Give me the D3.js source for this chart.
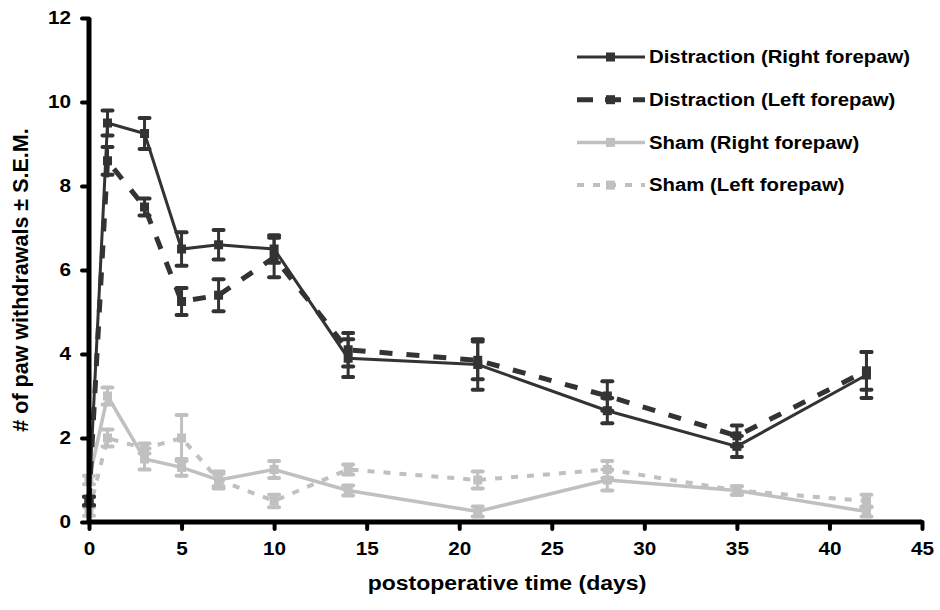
<!DOCTYPE html>
<html>
<head>
<meta charset="utf-8">
<script src="https://d3js.org/d3.v7.min.js"></script>
<style>
  body { margin: 0; background: #fff; }
  text { font-family: "Liberation Sans", Arial, sans-serif; font-weight: bold; fill: #000; }
</style>
</head>
<body>
<svg id="chart" width="940" height="610"></svg>
<script>
// days after surgery
const days = [0, 1, 3, 5, 7, 10, 14, 21, 28, 35, 42];

// mean withdrawals and S.E.M. per group
const distRight    = [0.5, 9.5, 9.25, 6.5, 6.6, 6.5, 3.9, 3.75, 2.65, 1.8, 3.5];
const distRightErr = [0.1, 0.3, 0.37, 0.4, 0.35, 0.33, 0.45, 0.6, 0.3, 0.25, 0.55];
const distLeft     = [0.5, 8.6, 7.5, 5.25, 5.4, 6.3, 4.1, 3.85, 3.0, 2.05, 3.6];
const distLeftErr  = [0.1, 0.33, 0.2, 0.32, 0.38, 0.47, 0.4, 0.45, 0.35, 0.25, 0.45];
const shamRight    = [1.0, 3.0, 1.5, 1.3, 1.0, 1.25, 0.75, 0.25, 1.0, 0.75, 0.25];
const shamRightErr = [0.1, 0.2, 0.25, 0.2, 0.2, 0.2, 0.12, 0.12, 0.25, 0.1, 0.12];
const shamLeft     = [0.25, 2.0, 1.75, 2.0, 1.0, 0.5, 1.25, 1.0, 1.25, 0.75, 0.5];
const shamLeftErr  = [0.1, 0.2, 0.12, 0.55, 0.15, 0.15, 0.12, 0.2, 0.2, 0.1, 0.15];

const xTicks = [0, 5, 10, 15, 20, 25, 30, 35, 40, 45];
const yTicks = [0, 2, 4, 6, 8, 10, 12];

const series = [
  {name: "Sham (Left forepaw)", vals: shamLeft, err: shamLeftErr, color: "#c0c0c0", width: 4, dash: "7,9"},
  {name: "Sham (Right forepaw)", vals: shamRight, err: shamRightErr, color: "#c0c0c0", width: 3.5, dash: null},
  {name: "Distraction (Left forepaw)", vals: distLeft, err: distLeftErr, color: "#333333", width: 5, dash: "13,14"},
  {name: "Distraction (Right forepaw)", vals: distRight, err: distRightErr, color: "#333333", width: 3, dash: null}
];

const svg = d3.select("#chart");
const x = d3.scaleLinear().domain([0, 45]).range([89, 922]);
const y = d3.scaleLinear().domain([0, 12]).range([522, 18]);

// the original text is a bit wider than Arial bold, stretch it
function stretch(sel, k) {
  sel.each(function() {
    const w = this.getComputedTextLength();
    d3.select(this).attr("textLength", w * k).attr("lengthAdjust", "spacingAndGlyphs");
  });
}

// data layers
series.forEach(s => {
  const pts = days.map((d, i) => ({d: d, v: s.vals[i], e: s.err[i]}));
  const g = svg.append("g");
  const line = d3.line().x(p => x(p.d)).y(p => y(p.v));
  g.append("path").datum(pts)
    .attr("d", line)
    .attr("fill", "none")
    .attr("stroke", s.color)
    .attr("stroke-width", s.width)
    .attr("stroke-dasharray", s.dash);

  // error bars
  const eb = g.selectAll("g.err").data(pts).join("g").attr("class", "err")
    .attr("stroke", s.color).attr("stroke-linecap", "round");
  eb.append("line")
    .attr("x1", p => x(p.d)).attr("x2", p => x(p.d))
    .attr("y1", p => y(p.v + p.e)).attr("y2", p => y(p.v - p.e))
    .attr("stroke-width", 3);
  eb.append("line")
    .attr("x1", p => x(p.d) - 5).attr("x2", p => x(p.d) + 5)
    .attr("y1", p => y(p.v + p.e)).attr("y2", p => y(p.v + p.e))
    .attr("stroke-width", 4);
  eb.append("line")
    .attr("x1", p => x(p.d) - 5).attr("x2", p => x(p.d) + 5)
    .attr("y1", p => y(p.v - p.e)).attr("y2", p => y(p.v - p.e))
    .attr("stroke-width", 4);

  g.selectAll("rect").data(pts).join("rect")
    .attr("x", p => x(p.d) - 4.5).attr("y", p => y(p.v) - 4.5)
    .attr("width", 9).attr("height", 9)
    .attr("fill", s.color);
});

// axes
const xAxis = svg.append("g").attr("transform", "translate(0,522)")
  .call(d3.axisBottom(x).tickValues(xTicks).tickSize(7).tickPadding(13));
const yAxis = svg.append("g").attr("transform", "translate(89,0)")
  .call(d3.axisLeft(y).tickValues(yTicks).tickSize(7).tickPadding(11));
[xAxis, yAxis].forEach(a => {
  a.select(".domain").attr("stroke", "#000").attr("stroke-width", 5);
  a.selectAll(".tick line").attr("stroke", "#000").attr("stroke-width", 4).attr("stroke-linecap", "round");
  a.selectAll(".tick text").style("font-size", "18px").style("font-family", "Liberation Sans, Arial, sans-serif")
    .style("font-weight", "bold").attr("fill", "#000");
  stretch(a.selectAll(".tick text"), 1.15);
});
// domain lines without the outer ticks
xAxis.select(".domain").attr("d", `M${x(0)},0H${x(45)}`);
yAxis.select(".domain").attr("d", `M0,${y(0)}V${y(12)}`);

svg.append("text")
  .attr("x", 507).attr("y", 590)
  .attr("text-anchor", "middle")
  .style("font-size", "20px")
  .text("postoperative time (days)")
  .call(stretch, 1.15);

svg.append("text")
  .attr("transform", "translate(28,280) rotate(-90)")
  .attr("text-anchor", "middle")
  .style("font-size", "21.5px")
  .text("# of paw withdrawals ± S.E.M.");

// legend
const legendRows = series.slice().reverse();
const lg = svg.append("g");
legendRows.forEach((s, i) => {
  const ly = 57 + i * 42.7;
  lg.append("line")
    .attr("x1", 577).attr("x2", 645).attr("y1", ly).attr("y2", ly)
    .attr("stroke", s.color).attr("stroke-width", s.width)
    .attr("stroke-dasharray", s.dash ? (s.width > 4 ? "16,12" : "7,9") : null);
  lg.append("rect")
    .attr("x", 606).attr("y", ly - 4.5).attr("width", 9).attr("height", 9)
    .attr("fill", s.color);
  lg.append("text")
    .attr("x", 649).attr("y", ly).attr("dy", "0.35em")
    .style("font-size", "18px")
    .text(s.name)
    .call(stretch, 1.13);
});
</script>
</body>
</html>
